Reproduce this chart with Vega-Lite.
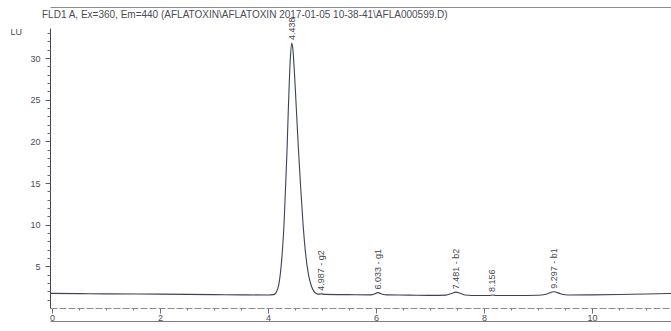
{
  "$schema": "https://vega.github.io/schema/vega-lite/v6.json",
  "width": 621,
  "height": 280,
  "autosize": {"type": "none"},
  "padding": {"left": 50, "top": 28, "right": 0, "bottom": 23},
  "background": "#ffffff",
  "config": {
    "view": {"stroke": null},
    "font": "Liberation Sans",
    "axis": {"grid": false, "labelFont": "Liberation Sans", "titleFont": "Liberation Sans", "labelOverlap": false, "labelBound": false}
  },
  "title": {
    "text": "FLD1 A, Ex=360, Em=440 (AFLATOXIN\\AFLATOXIN 2017-01-05 10-38-41\\AFLA000599.D)",
    "anchor": "start",
    "frame": "group",
    "dx": -8,
    "dy": 23,
    "offset": 0,
    "baseline": "bottom",
    "fontSize": 10,
    "fontWeight": "normal",
    "color": "#4a4c56"
  },
  "datasets": {
    "signal": [
      {"t": -0.037, "lu": 1.76},
      {"t": 0.5, "lu": 1.73},
      {"t": 1.0, "lu": 1.7},
      {"t": 2.0, "lu": 1.66},
      {"t": 3.0, "lu": 1.61},
      {"t": 3.5, "lu": 1.58},
      {"t": 4.0, "lu": 1.56},
      {"t": 4.1, "lu": 1.6},
      {"t": 4.15, "lu": 1.85},
      {"t": 4.2, "lu": 2.8},
      {"t": 4.25, "lu": 5.5},
      {"t": 4.3, "lu": 10.5},
      {"t": 4.35, "lu": 18.5},
      {"t": 4.38, "lu": 24.5},
      {"t": 4.41, "lu": 29.5},
      {"t": 4.438, "lu": 31.8},
      {"t": 4.46, "lu": 31.1},
      {"t": 4.49, "lu": 28.2},
      {"t": 4.52, "lu": 24.5},
      {"t": 4.56, "lu": 19.5},
      {"t": 4.6, "lu": 15.0},
      {"t": 4.65, "lu": 10.0},
      {"t": 4.7, "lu": 6.3},
      {"t": 4.75, "lu": 4.0},
      {"t": 4.8, "lu": 2.7},
      {"t": 4.85, "lu": 2.0},
      {"t": 4.9, "lu": 1.72},
      {"t": 4.95, "lu": 1.66},
      {"t": 4.987, "lu": 1.7},
      {"t": 5.05, "lu": 1.63},
      {"t": 5.5, "lu": 1.6},
      {"t": 5.9, "lu": 1.58},
      {"t": 5.96, "lu": 1.64},
      {"t": 6.033, "lu": 1.85},
      {"t": 6.12, "lu": 1.66},
      {"t": 6.2, "lu": 1.57},
      {"t": 6.6, "lu": 1.55},
      {"t": 7.0, "lu": 1.52},
      {"t": 7.3, "lu": 1.55},
      {"t": 7.4, "lu": 1.75},
      {"t": 7.481, "lu": 1.9},
      {"t": 7.56, "lu": 1.78},
      {"t": 7.65, "lu": 1.56},
      {"t": 7.9, "lu": 1.5},
      {"t": 8.1, "lu": 1.5},
      {"t": 8.156, "lu": 1.56},
      {"t": 8.22, "lu": 1.5},
      {"t": 8.6, "lu": 1.5},
      {"t": 9.0, "lu": 1.53},
      {"t": 9.15, "lu": 1.66},
      {"t": 9.297, "lu": 1.95},
      {"t": 9.42, "lu": 1.7},
      {"t": 9.55, "lu": 1.56},
      {"t": 10.0, "lu": 1.58},
      {"t": 10.5, "lu": 1.62},
      {"t": 11.0, "lu": 1.68},
      {"t": 11.463, "lu": 1.75}
    ],
    "peaks": [
      {"t": 4.438, "lu": 31.8, "label": "4.438"},
      {"t": 4.987, "lu": 1.7, "label": "4.987 - g2"},
      {"t": 6.033, "lu": 1.85, "label": "6.033 - g1"},
      {"t": 7.481, "lu": 1.9, "label": "7.481 - b2"},
      {"t": 8.156, "lu": 1.56, "label": "8.156"},
      {"t": 9.297, "lu": 1.95, "label": "9.297 - b1"}
    ]
  },
  "resolve": {"axis": {"x": "independent", "y": "independent"}},
  "layer": [
    {
      "data": {"name": "signal"},
      "mark": {"type": "line", "color": "#3d4354", "strokeWidth": 1.1, "interpolate": "monotone"},
      "encoding": {
        "x": {
          "field": "t",
          "type": "quantitative",
          "scale": {"domain": [-0.037, 11.463], "nice": false, "zero": false},
          "axis": {
            "orient": "bottom",
            "title": null,
            "values": [0, 2, 4, 6, 8, 10],
            "domainColor": "#8a8d95",
            "domainDash": [7, 2],
            "tickColor": "#6a6d75",
            "tickSize": 5,
            "labelFontSize": 9,
            "labelColor": "#4a4c56",
            "labelPadding": 0,
            "labelFlush": false
          }
        },
        "y": {
          "field": "lu",
          "type": "quantitative",
          "scale": {"domain": [0, 33.6], "nice": false, "zero": false},
          "axis": {
            "orient": "left",
            "title": "LU",
            "titleAngle": 0,
            "titleX": -40,
            "titleY": 3,
            "titleAlign": "left",
            "titleBaseline": "middle",
            "titleFontSize": 9,
            "titleFontWeight": "normal",
            "titleColor": "#4a4c56",
            "values": [5, 10, 15, 20, 25, 30],
            "domainColor": "#454850",
            "tickColor": "#5a5d65",
            "tickSize": 5,
            "labelFontSize": 9,
            "labelColor": "#4a4c56",
            "labelPadding": 5
          }
        }
      }
    },
    {
      "data": {"name": "signal"},
      "mark": {"type": "point", "opacity": 0},
      "encoding": {
        "x": {
          "field": "t",
          "type": "quantitative",
          "axis": {
            "orient": "bottom",
            "title": null,
            "values": [0.5, 1, 1.5, 2.5, 3, 3.5, 4.5, 5, 5.5, 6.5, 7, 7.5, 8.5, 9, 9.5, 10.5, 11],
            "labels": false,
            "domain": false,
            "tickColor": "#7a7d85",
            "tickSize": 2
          }
        },
        "y": {
          "field": "lu",
          "type": "quantitative",
          "axis": {
            "orient": "left",
            "title": null,
            "values": [1, 2, 3, 4, 6, 7, 8, 9, 11, 12, 13, 14, 16, 17, 18, 19, 21, 22, 23, 24, 26, 27, 28, 29, 31, 32, 33],
            "labels": false,
            "domain": false,
            "tickColor": "#6a6d75",
            "tickSize": 3
          }
        }
      }
    },
    {
      "data": {"name": "signal"},
      "mark": {"type": "point", "opacity": 0},
      "encoding": {
        "x": {
          "field": "t",
          "type": "quantitative",
          "axis": {
            "orient": "bottom",
            "title": null,
            "offset": 13,
            "labels": false,
            "ticks": false,
            "domain": true,
            "domainColor": "#7c7f88",
            "domainWidth": 1.2
          }
        },
        "y": {"field": "lu", "type": "quantitative", "axis": null}
      }
    },
    {
      "data": {"name": "signal"},
      "mark": {"type": "point", "opacity": 0},
      "encoding": {
        "x": {
          "field": "t",
          "type": "quantitative",
          "axis": {
            "orient": "top",
            "title": null,
            "offset": 21,
            "labels": false,
            "ticks": false,
            "domain": true,
            "domainColor": "#8a8d95",
            "domainWidth": 1.2
          }
        },
        "y": {"field": "lu", "type": "quantitative", "axis": null}
      }
    },
    {
      "data": {"name": "peaks"},
      "mark": {"type": "text", "angle": 270, "align": "left", "baseline": "middle", "dx": 3, "fontSize": 9, "color": "#45474f"},
      "encoding": {
        "x": {"field": "t", "type": "quantitative", "axis": null},
        "y": {"field": "lu", "type": "quantitative", "axis": null},
        "text": {"field": "label"}
      }
    }
  ]
}
